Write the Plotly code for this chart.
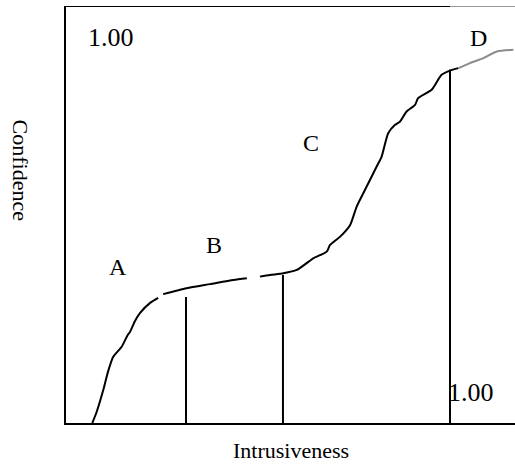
import plotly.graph_objects as go

# Curve data (Intrusiveness, Confidence); None marks small gaps in the drawn curve
curve_x = [0.0685, 0.080, 0.097, 0.110, 0.123, 0.145, 0.160, 0.167, 0.180, 0.193, 0.219, 0.240, None,
           0.253, 0.314, 0.375, 0.436, 0.471, None,
           0.505, 0.531, 0.566, 0.601, 0.644, 0.679, 0.6875, 0.714, 0.740, 0.757, 0.783, 0.809,
           0.822, 0.839, 0.857, 0.870, 0.887, 0.909, 0.917, 0.952, 0.978, 1.0, 1.022]
curve_y = [0.0, 0.027, 0.079, 0.125, 0.159, 0.183, 0.210, 0.219, 0.245, 0.264, 0.288, 0.300, None,
           0.309, 0.323, 0.333, 0.343, 0.347, None,
           0.351, 0.355, 0.359, 0.367, 0.395, 0.411, 0.427, 0.447, 0.475, 0.519, 0.567, 0.615,
           0.639, 0.695, 0.715, 0.723, 0.747, 0.763, 0.779, 0.799, 0.835, 0.845, 0.851]
tail_x = [1.022, 1.052, 1.087, 1.122, 1.165]
tail_y = [0.851, 0.863, 0.875, 0.891, 0.895]

divider_x = [0.3125, 0.565, 1.0]
divider_top = [0.302, 0.355, 0.847]

region_labels = ["A", "B", "C", "D"]
region_x = [0.1346, 0.385, 0.638, 1.073]
region_y = [0.375, 0.427, 0.671, 0.924]

X_MAX = 449 / 384
FONT = "Liberation Serif, Times New Roman, serif"

fig = go.Figure()
fig.add_trace(go.Scatter(x=curve_x, y=curve_y, mode="lines", connectgaps=False,
                         line=dict(color="black", width=2, shape="spline", smoothing=0.6),
                         hoverinfo="skip"))
fig.add_trace(go.Scatter(x=tail_x, y=tail_y, mode="lines",
                         line=dict(color="#8c8c8c", width=2, shape="spline", smoothing=0.6),
                         hoverinfo="skip"))
for dx, dt in zip(divider_x, divider_top):
    fig.add_trace(go.Scatter(x=[dx, dx], y=[0, dt], mode="lines",
                             line=dict(color="black", width=2), hoverinfo="skip"))

# top border: black up to x = 1.00, grey beyond
fig.add_shape(type="line", xref="x", yref="y", x0=0, x1=1.0, y0=1, y1=1,
              line=dict(color="black", width=2))
fig.add_shape(type="line", xref="x", yref="y", x0=1.0, x1=X_MAX, y0=1, y1=1,
              line=dict(color="#999999", width=2))

for t, x, y in zip(region_labels, region_x, region_y):
    fig.add_annotation(x=x, y=y, text=t, showarrow=False,
                       font=dict(family=FONT, size=24, color="black"))

fig.add_annotation(x=0.116, y=0.925, text="1.00", showarrow=False,
                   font=dict(family=FONT, size=26, color="black"))
fig.add_annotation(x=1.054, y=0.074, text="1.00", showarrow=False,
                   font=dict(family=FONT, size=26, color="black"))

fig.add_annotation(xref="paper", yref="paper", x=0.501, y=-0.101, text="Intrusiveness",
                   showarrow=False, font=dict(family=FONT, size=22, color="black"))
fig.add_annotation(xref="paper", yref="paper", x=-0.134, y=0.607, text="Confidence",
                   textangle=90, showarrow=False, font=dict(family=FONT, size=22, color="black"))

fig.update_layout(
    width=515, height=465,
    margin=dict(l=66, r=0, t=6, b=42),
    paper_bgcolor="white", plot_bgcolor="white",
    showlegend=False,
    xaxis=dict(range=[0, X_MAX], showgrid=False, zeroline=False, showticklabels=False,
               ticks="", showline=True, linecolor="black", linewidth=2),
    yaxis=dict(range=[0, 1], showgrid=False, zeroline=False, showticklabels=False,
               ticks="", showline=True, linecolor="black", linewidth=2),
)

fig.write_html("out.html", config={"displayModeBar": False},
               post_script="document.body.style.margin='0';document.body.style.overflow='hidden';")
